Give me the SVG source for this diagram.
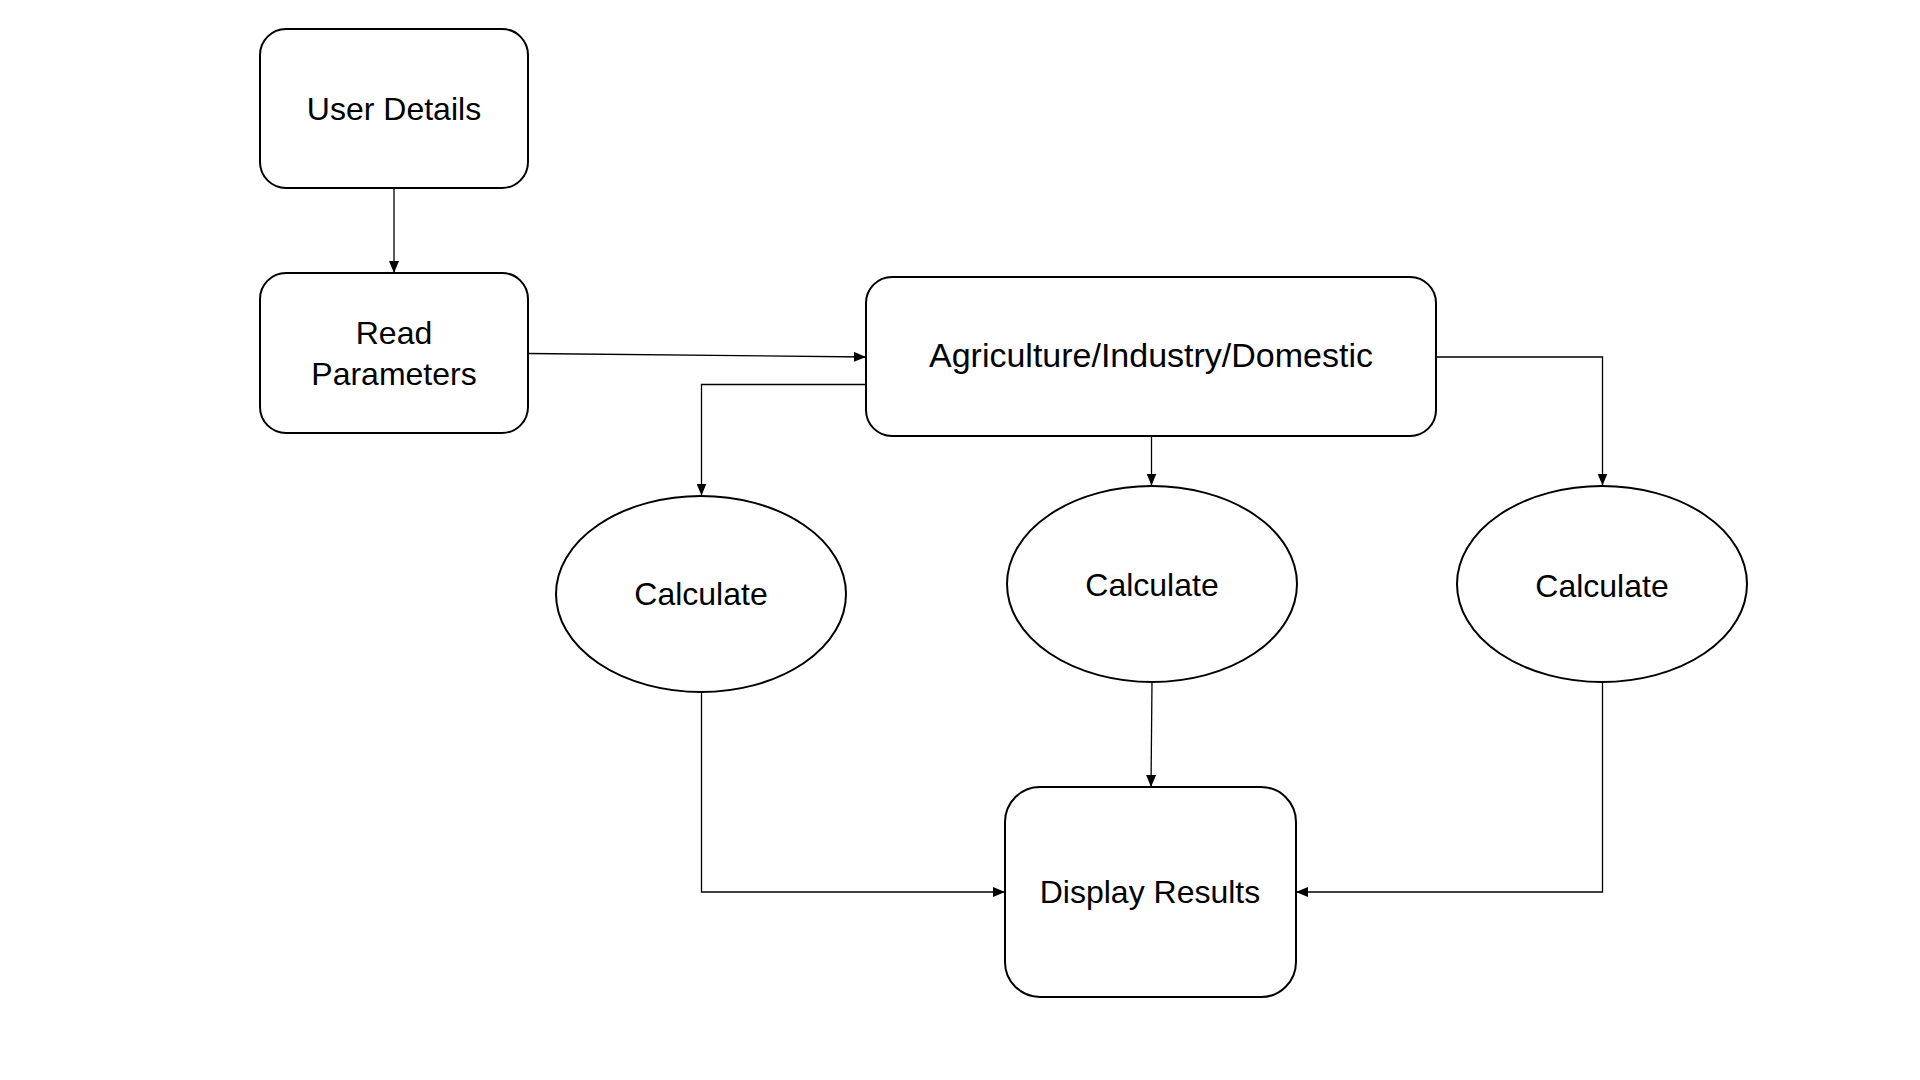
<svg xmlns="http://www.w3.org/2000/svg" width="1920" height="1080" viewBox="0 0 1920 1080">
<style>
.node{fill:#fff;stroke:#000;stroke-width:2}
.lbl{font-family:"Liberation Sans",Arial,sans-serif;font-size:32px;fill:#000;text-anchor:middle}
.conn{fill:none;stroke:#000;stroke-width:1.3}
</style>
<defs>
<marker id="arrow" markerUnits="userSpaceOnUse" markerWidth="12" markerHeight="10" refX="12" refY="5" orient="auto">
<path d="M0,0 L12,5 L0,10 z" fill="#000"/>
</marker>
</defs>
<rect width="1920" height="1080" fill="#fff"/>
<g id="connectors">
<path class="conn" marker-end="url(#arrow)" d="M394,188 L394,273"/>
<path class="conn" marker-end="url(#arrow)" d="M528,353.5 L866,357"/>
<path class="conn" marker-end="url(#arrow)" d="M866,384.5 L701.5,384.5 L701.5,495.5"/>
<path class="conn" marker-end="url(#arrow)" d="M1151.5,436 L1151.5,485.5"/>
<path class="conn" marker-end="url(#arrow)" d="M1436,357 L1602.5,357 L1602.5,485.5"/>
<path class="conn" marker-end="url(#arrow)" d="M701.5,692 L701.5,892 L1005,892"/>
<path class="conn" marker-end="url(#arrow)" d="M1152,682 L1151,787"/>
<path class="conn" marker-end="url(#arrow)" d="M1602.5,682 L1602.5,892 L1296,892"/>
</g>
<g id="user-details">
<rect class="node" x="260" y="29" width="268" height="159" rx="26" ry="26"/>
<text class="lbl" x="394" y="120">User Details</text>
</g>
<g id="read-parameters">
<rect class="node" x="260" y="273" width="268" height="160" rx="26" ry="26"/>
<text class="lbl" x="394" y="344">Read</text>
<text class="lbl" x="394" y="385">Parameters</text>
</g>
<g id="sector">
<rect class="node" x="866" y="277" width="570" height="159" rx="26" ry="26"/>
<text class="lbl" x="1151" y="367" style="font-size:34px">Agriculture/Industry/Domestic</text>
</g>
<g id="calculate-1">
<ellipse class="node" cx="701" cy="594" rx="145" ry="98"/>
<text class="lbl" x="701" y="605">Calculate</text>
</g>
<g id="calculate-2">
<ellipse class="node" cx="1152" cy="584" rx="145" ry="98"/>
<text class="lbl" x="1152" y="596">Calculate</text>
</g>
<g id="calculate-3">
<ellipse class="node" cx="1602" cy="584" rx="145" ry="98"/>
<text class="lbl" x="1602" y="597">Calculate</text>
</g>
<g id="display-results">
<rect class="node" x="1005" y="787" width="291" height="210" rx="35" ry="35"/>
<text class="lbl" x="1150" y="903">Display Results</text>
</g>
</svg>
